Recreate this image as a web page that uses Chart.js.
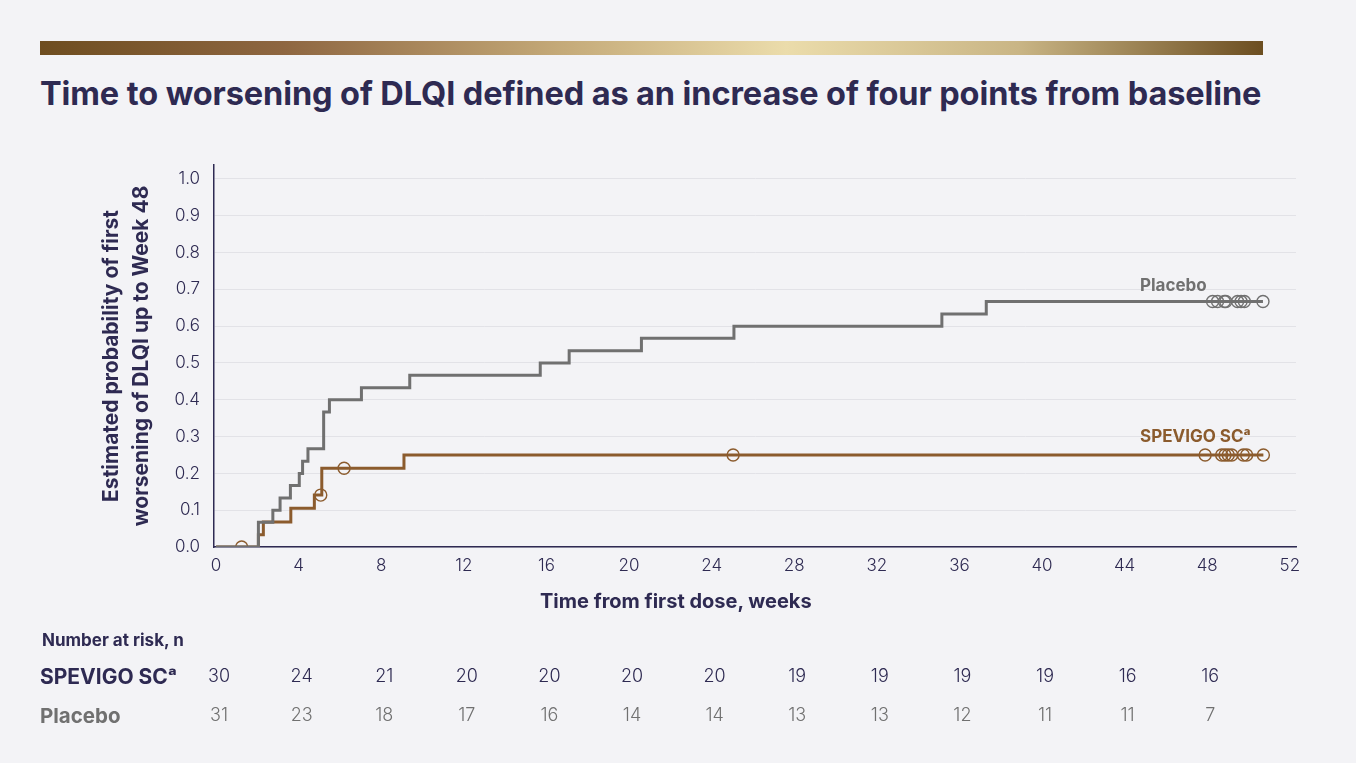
<!DOCTYPE html>
<html>
<head>
<meta charset="utf-8">
<script src="https://cdn.jsdelivr.net/npm/chart.js@4.4.1/dist/chart.umd.min.js"></script>
<style>
  html, body { margin: 0; padding: 0; background: #f3f3f6; }
  body { width: 1356px; height: 763px; position: relative; overflow: hidden; font-family: Inter, "Noto Sans", sans-serif; }
  #bar { position: absolute; left: 40px; top: 41px; width: 1223px; height: 14px;
    background: linear-gradient(90deg, #6e4d20 0%, #8e6641 20%, #c3a877 42%, #ebdcab 61%, #c9b585 80%, #6c4e21 100%); }
  h1 { position: absolute; left: 40px; top: 74px; margin: 0; font-size: 32.5px; line-height: 40px; font-weight: 700;
    color: #2e2a52; white-space: nowrap; letter-spacing: -0.1px; }
  .t { position: absolute; white-space: nowrap; font-weight: 700; }
  #chart { position: absolute; left: 0; top: 0; }
</style>
</head>
<body>
<div id="bar"></div>
<h1 id="title">Time to worsening of DLQI defined as an increase of four points from baseline</h1>
<canvas id="chart" width="1356" height="763"></canvas>
<div class="t" style="left:540px; top:589px; font-size:20px; color:#2e2a52;">Time from first dose, weeks</div>
<div class="t" style="left:1140px; top:275px; font-size:17px; color:#707070;">Placebo</div>
<div class="t" style="left:1140px; top:426px; font-size:17px; color:#8b5b2d;">SPEVIGO SCᵃ</div>
<div class="t" style="left:42px; top:630px; font-size:17px; color:#2e2a52;">Number at risk, n</div>
<div class="t" style="left:40px; top:664px; font-size:21px; color:#2e2a52;">SPEVIGO SCᵃ</div>
<div class="t" style="left:40px; top:703px; font-size:20.5px; color:#707070;">Placebo</div>
<script>
const weekTicks = [0, 4, 8, 12, 16, 20, 24, 28, 32, 36, 40, 44, 48, 52];
const probTicks = [0, 0.1, 0.2, 0.3, 0.4, 0.5, 0.6, 0.7, 0.8, 0.9, 1.0];

const placeboTimes = [0, 2.05, 2.75, 3.1, 3.6, 4.03, 4.19, 4.45, 5.21, 5.49, 7.04, 9.38, 15.7, 17.1, 20.6, 25.08, 35.15, 37.3, 50.7];
const placeboProb  = [0, 0.067, 0.1, 0.133, 0.167, 0.2, 0.233, 0.267, 0.367, 0.4, 0.433, 0.467, 0.5, 0.533, 0.567, 0.6, 0.633, 0.667, 0.667];
const placeboCensorTimes = [48.26, 48.5, 48.83, 48.9, 49.47, 49.64, 49.8, 50.7];
const placeboCensorProb  = [0.667, 0.667, 0.667, 0.667, 0.667, 0.667, 0.667, 0.667];

const spevigoTimes = [0, 2.05, 2.29, 3.62, 4.76, 5.12, 9.1, 50.72];
const spevigoProb  = [0, 0.033, 0.068, 0.105, 0.141, 0.214, 0.25, 0.25];
const spevigoCensorTimes = [1.24, 5.07, 6.2, 25.04, 47.9, 48.7, 48.86, 49.02, 49.19, 49.75, 49.91, 50.72];
const spevigoCensorProb  = [0, 0.141, 0.214, 0.25, 0.25, 0.25, 0.25, 0.25, 0.25, 0.25, 0.25, 0.25];

const riskWeeks = [0, 4, 8, 12, 16, 20, 24, 28, 32, 36, 40, 44, 48];
const riskSpevigo = [30, 24, 21, 20, 20, 20, 20, 19, 19, 19, 19, 16, 16];
const riskPlacebo = [31, 23, 18, 17, 16, 14, 14, 13, 13, 12, 11, 11, 7];

const navy = '#2e2a52';
const grey = '#707070';
const brown = '#8b5b2d';

const pts = (xs, ys) => xs.map((x, i) => ({ x: x, y: ys[i] }));

// number-at-risk rows, placed under the x scale
const riskTable = {
  id: 'riskTable',
  afterDraw(chart) {
    const ctx = chart.ctx;
    const x = chart.scales.x;
    ctx.save();
    ctx.font = '300 18px Inter, "Noto Sans", sans-serif';
    ctx.textAlign = 'center';
    ctx.textBaseline = 'middle';
    riskWeeks.forEach((w, i) => {
      const px = x.getPixelForValue(w) + 3;
      ctx.fillStyle = navy;
      ctx.fillText(String(riskSpevigo[i]), px, 677);
      ctx.fillStyle = grey;
      ctx.fillText(String(riskPlacebo[i]), px, 716);
    });
    ctx.restore();
  }
};

new Chart(document.getElementById('chart'), {
  type: 'line',
  data: {
    datasets: [
      { label: 'Placebo', data: pts(placeboTimes, placeboProb), stepped: 'before', borderColor: grey, borderWidth: 3, pointRadius: 0, fill: false },
      { label: 'SPEVIGO SC', data: pts(spevigoTimes, spevigoProb), stepped: 'before', borderColor: brown, borderWidth: 3, pointRadius: 0, fill: false },
      { label: 'Placebo censored', data: pts(placeboCensorTimes, placeboCensorProb), showLine: false, pointStyle: 'circle', pointRadius: 6, pointBorderWidth: 1.4, pointBorderColor: grey, pointBackgroundColor: 'rgba(0,0,0,0)' },
      { label: 'SPEVIGO censored', data: pts(spevigoCensorTimes, spevigoCensorProb), showLine: false, pointStyle: 'circle', pointRadius: 6, pointBorderWidth: 1.4, pointBorderColor: brown, pointBackgroundColor: 'rgba(0,0,0,0)' }
    ]
  },
  options: {
    responsive: false,
    animation: false,
    layout: { padding: { left: 95, top: 165, right: 60, bottom: 146 } },
    plugins: { legend: { display: false }, tooltip: { enabled: false } },
    scales: {
      x: {
        type: 'linear', min: -0.1, max: 52.3,
        afterBuildTicks: s => { s.ticks = weekTicks.map(v => ({ value: v })); },
        afterFit: s => { s.height = 70; },
        grid: { drawOnChartArea: false, drawTicks: false },
        border: { color: navy, width: 1.5 },
        ticks: { color: navy, padding: 9, font: { family: 'Inter', size: 17, weight: 300 }, maxRotation: 0 }
      },
      y: {
        min: 0, max: 1.038,
        afterBuildTicks: s => { s.ticks = probTicks.map(v => ({ value: v })); },
        afterFit: s => { s.width = 119; },
        grid: { color: '#e2e2e7', lineWidth: 1, drawTicks: false },
        border: { color: navy, width: 1.5 },
        ticks: { color: navy, padding: 14, font: { family: 'Inter', size: 17, weight: 300 }, callback: v => v.toFixed(1) },
        title: {
          display: true,
          text: ['Estimated probability of first', 'worsening of DLQI up to Week 48'],
          color: navy,
          font: { family: 'Inter', size: 21, weight: 700, lineHeight: 1.43 },
          padding: { top: 2, bottom: 0 }
        }
      }
    }
  },
  plugins: [riskTable]
});
</script>
</body>
</html>
